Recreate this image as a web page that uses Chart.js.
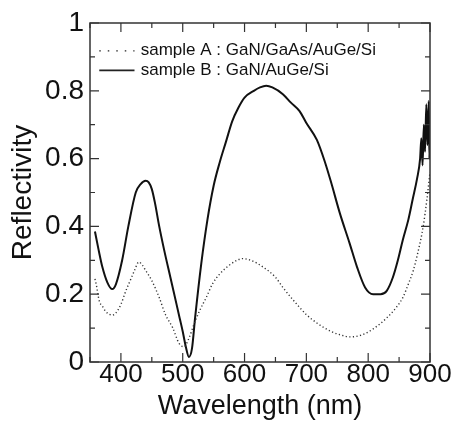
<!DOCTYPE html>
<html>
<head>
<meta charset="utf-8">
<script src="https://cdn.jsdelivr.net/npm/chart.js@4"></script>
<style>
html,body{margin:0;padding:0;background:#fff;}
#wrap{width:456px;height:430px;}
</style>
</head>
<body>
<div id="wrap"><canvas id="c" width="456" height="430"></canvas></div>
<script>
// ---- data ----
const wavelengthA = [358,360,365,370,375,380,386,392,400,408,415,422,429,435,440,450,462,472,484,494,502,510,518,527,538,548,560,575,588,597,610,630,650,662,680,700,717,740,755,770,790,810,830,845,856,865,873,880,889,895,900];
const reflectA    = [0.245,0.23,0.18,0.165,0.15,0.142,0.138,0.145,0.17,0.21,0.24,0.27,0.295,0.285,0.27,0.24,0.19,0.14,0.10,0.055,0.045,0.07,0.11,0.15,0.19,0.23,0.26,0.285,0.3,0.305,0.30,0.28,0.25,0.22,0.18,0.14,0.115,0.09,0.08,0.074,0.08,0.10,0.13,0.16,0.19,0.23,0.27,0.32,0.40,0.48,0.56];

const wavelengthB = [358,364,370,378,386,392,402,412,424,432,440,445,450,455,462,470,480,490,495,500,505,510,515,520,530,540,550,560,570,580,590,600,615,625,635,645,662,675,689,700,717,730,740,754,770,782,795,808,820,830,840,848,856,865,872,879,884,886,888,890,892,894,896,898,899,900];
const reflectB    = [0.385,0.33,0.28,0.235,0.215,0.23,0.30,0.40,0.50,0.525,0.535,0.53,0.51,0.47,0.40,0.33,0.25,0.17,0.13,0.09,0.045,0.015,0.04,0.13,0.29,0.42,0.52,0.59,0.65,0.71,0.75,0.78,0.80,0.81,0.815,0.81,0.79,0.765,0.74,0.705,0.655,0.59,0.53,0.44,0.35,0.28,0.22,0.20,0.20,0.21,0.25,0.30,0.36,0.42,0.48,0.54,0.60,0.66,0.58,0.70,0.62,0.76,0.64,0.77,0.60,0.68];

const xTicks = [400,500,600,700,800,900];
const yTicks = [0,0.2,0.4,0.6,0.8,1];
const legendLabels = ['sample A : GaN/GaAs/AuGe/Si','sample B : GaN/AuGe/Si'];
const xTitle = 'Wavelength (nm)';
const yTitle = 'Reflectivity';

const toPts = (xs, ys) => xs.map((x,i)=>({x:x,y:ys[i]}));

const FONT = "'Liberation Sans', Arial, sans-serif";

const framePlugin = {
  id:'frame',
  afterDatasetsDraw(chart){
    const {ctx, chartArea:a, scales:{x,y}} = chart;
    ctx.save();
    ctx.strokeStyle='#333';
    ctx.lineWidth=1.5;
    ctx.strokeRect(a.left,a.top,a.right-a.left,a.bottom-a.top);
    ctx.lineWidth=1.2;
    ctx.beginPath();
    for(let v=350; v<=900; v+=50){
      const px=x.getPixelForValue(v);
      const L = (v%100===0)?9:5;
      ctx.moveTo(px,a.bottom); ctx.lineTo(px,a.bottom-L);
      ctx.moveTo(px,a.top); ctx.lineTo(px,a.top+L);
    }
    for(let i=0;i<=10;i++){
      const v=i/10;
      const py=y.getPixelForValue(v);
      const L=(i%2===0)?9:5;
      ctx.moveTo(a.left,py); ctx.lineTo(a.left+L,py);
      ctx.moveTo(a.right,py); ctx.lineTo(a.right-L,py);
    }
    ctx.stroke();
    // legend
    ctx.font = "17px " + FONT;
    ctx.fillStyle='#111';
    ctx.textBaseline='middle';
    ctx.textAlign='left';
    const lx0=x.getPixelForValue(365), lx1=x.getPixelForValue(422), tx=x.getPixelForValue(432);
    const r1=y.getPixelForValue(0.918), r2=y.getPixelForValue(0.86);
    ctx.strokeStyle='#222';
    ctx.lineWidth=1.3;
    ctx.setLineDash([1.5,7]);
    ctx.beginPath(); ctx.moveTo(lx0,r1); ctx.lineTo(lx1,r1); ctx.stroke();
    ctx.setLineDash([]);
    ctx.lineWidth=1.8;
    ctx.beginPath(); ctx.moveTo(lx0,r2); ctx.lineTo(lx1,r2); ctx.stroke();
    ctx.fillText(legendLabels[0],tx,r1);
    ctx.fillText(legendLabels[1],tx,r2);
    ctx.restore();
  }
};

new Chart(document.getElementById('c'),{
  type:'line',
  data:{
    datasets:[
      {label:legendLabels[0],data:toPts(wavelengthA,reflectA),borderColor:'#333',borderWidth:1.4,borderDash:[1.2,2.4],pointRadius:0,cubicInterpolationMode:'monotone',fill:false},
      {label:legendLabels[1],data:toPts(wavelengthB,reflectB),borderColor:'#111',borderWidth:2,pointRadius:0,cubicInterpolationMode:'monotone',fill:false}
    ]
  },
  options:{
    responsive:false,
    animation:false,
    layout:{padding:{top:23,right:26,left:0,bottom:0}},
    plugins:{legend:{display:false},tooltip:{enabled:false}},
    scales:{
      x:{type:'linear',min:350,max:900,
        afterFit(s){s.height=68;},
        afterBuildTicks(s){s.ticks=xTicks.map(v=>({value:v}));},
        grid:{display:false,drawTicks:false},
        border:{display:false},
        ticks:{font:{size:26,family:FONT},color:'#111',padding:-3,maxRotation:0,autoSkip:false},
        title:{display:true,text:xTitle,font:{size:27,family:FONT},color:'#111',padding:{top:0,bottom:7}}
      },
      y:{type:'linear',min:0,max:1,
        afterFit(s){s.width=90;},
        afterBuildTicks(s){s.ticks=yTicks.map(v=>({value:v}));},
        grid:{display:false,drawTicks:false},
        border:{display:false},
        ticks:{font:{size:28,family:FONT},color:'#111',padding:6,callback:v=>String(v)},
        title:{display:true,text:yTitle,font:{size:28,family:FONT},color:'#111',padding:{top:6,bottom:0}}
      }
    }
  },
  plugins:[framePlugin]
});
</script>
</body>
</html>
